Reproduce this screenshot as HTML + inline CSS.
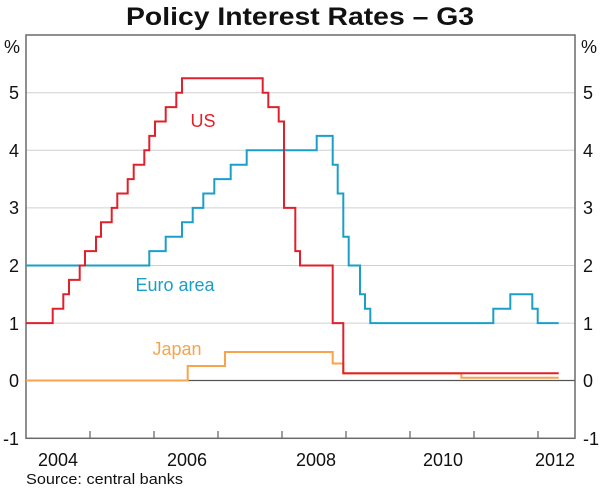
<!DOCTYPE html>
<html><head><meta charset="utf-8"><style>
html,body{margin:0;padding:0;background:#fff;}
svg{display:block;font-family:"Liberation Sans",Arial,sans-serif;}
</style></head><body>
<svg width="600" height="488" viewBox="0 0 600 488" xmlns="http://www.w3.org/2000/svg">
<text x="300" y="25" text-anchor="middle" font-size="25" font-weight="bold" fill="#111" textLength="348" lengthAdjust="spacingAndGlyphs">Policy Interest Rates – G3</text>
<g stroke="#d0d0d0" stroke-width="1">
<line x1="26" x2="575" y1="92.7" y2="92.7"/>
<line x1="26" x2="575" y1="150.3" y2="150.3"/>
<line x1="26" x2="575" y1="207.9" y2="207.9"/>
<line x1="26" x2="575" y1="265.5" y2="265.5"/>
<line x1="26" x2="575" y1="323.1" y2="323.1"/>
</g>
<line x1="26" x2="575" y1="380.5" y2="380.5" stroke="#555" stroke-width="1.2"/>
<rect x="26" y="35" width="549" height="403.3" fill="none" stroke="#6a6a6a" stroke-width="1.5"/>
<g stroke="#6a6a6a" stroke-width="1.3">
<line x1="90" x2="90" y1="438" y2="431"/>
<line x1="154" x2="154" y1="438" y2="431"/>
<line x1="218" x2="218" y1="438" y2="431"/>
<line x1="282" x2="282" y1="438" y2="431"/>
<line x1="346" x2="346" y1="438" y2="431"/>
<line x1="410" x2="410" y1="438" y2="431"/>
<line x1="474" x2="474" y1="438" y2="431"/>
<line x1="538" x2="538" y1="438" y2="431"/>
</g>
<g font-size="18" fill="#111">
<text x="4" y="53">%</text>
<text x="581" y="53">%</text>
<g text-anchor="end">
<text x="19" y="99">5</text><text x="19" y="157">4</text><text x="19" y="214">3</text><text x="19" y="272">2</text><text x="19" y="330">1</text><text x="19" y="387">0</text><text x="19" y="445">-1</text>
</g>
<text x="583" y="99">5</text><text x="583" y="157">4</text><text x="583" y="214">3</text><text x="583" y="272">2</text><text x="583" y="330">1</text><text x="583" y="387">0</text><text x="583" y="445">-1</text>
<g text-anchor="middle">
<text x="58" y="466">2004</text><text x="187" y="466">2006</text><text x="316" y="466">2008</text><text x="443" y="466">2010</text><text x="555" y="466">2012</text>
</g>
</g>
<text x="26" y="484" font-size="15" fill="#111" textLength="157" lengthAdjust="spacingAndGlyphs">Source: central banks</text>
<polyline fill="none" stroke="#f7a44c" stroke-width="2" points="26,380.5 187.7,380.5 187.7,366 225,366 225,352 332.7,352 332.7,363.5 343.3,363.5 343.3,373.5 461.3,373.5 461.3,377.7 558.7,377.7"/>
<polyline fill="none" stroke="#1a9fc9" stroke-width="2" points="26,265.5 149.3,265.5 149.3,251.1 165.7,251.1 165.7,236.7 182,236.7 182,222.3 192.7,222.3 192.7,207.9 203.3,207.9 203.3,193.5 214.3,193.5 214.3,179.1 230.7,179.1 230.7,164.7 246.7,164.7 246.7,150.3 316.7,150.3 316.7,135.9 332.7,135.9 332.7,164.7 337.7,164.7 337.7,193.5 343.3,193.5 343.3,236.7 348.7,236.7 348.7,265.5 360,265.5 360,294.3 365,294.3 365,308.7 370.3,308.7 370.3,323.1 493.3,323.1 493.3,308.7 510.3,308.7 510.3,294.3 532.3,294.3 532.3,308.7 537.7,308.7 537.7,323.1 558.7,323.1"/>
<polyline fill="none" stroke="#e0202a" stroke-width="2" points="26,323.1 52.7,323.1 52.7,308.7 63.3,308.7 63.3,294.3 69,294.3 69,279.9 79.7,279.9 79.7,265.5 85,265.5 85,251.1 96,251.1 96,236.7 101,236.7 101,222.3 111.7,222.3 111.7,207.9 117.3,207.9 117.3,193.5 127.7,193.5 127.7,179.1 133.7,179.1 133.7,164.7 144.3,164.7 144.3,150.3 149.3,150.3 149.3,135.9 155,135.9 155,121.5 165.7,121.5 165.7,107.1 176.3,107.1 176.3,92.7 182,92.7 182,78.3 262.7,78.3 262.7,92.7 268.3,92.7 268.3,107.1 278.7,107.1 278.7,121.5 284,121.5 284,207.9 295.3,207.9 295.3,251.1 300,251.1 300,265.5 332.7,265.5 332.7,323.1 343.3,323.1 343.3,373.3 558.7,373.3"/>
<text x="203" y="127" font-size="18" fill="#e0202a" text-anchor="middle">US</text>
<text x="175" y="291" font-size="18" fill="#1a9fc9" text-anchor="middle">Euro area</text>
<text x="177" y="355" font-size="18" fill="#f7a44c" text-anchor="middle">Japan</text>
</svg>
</body></html>
